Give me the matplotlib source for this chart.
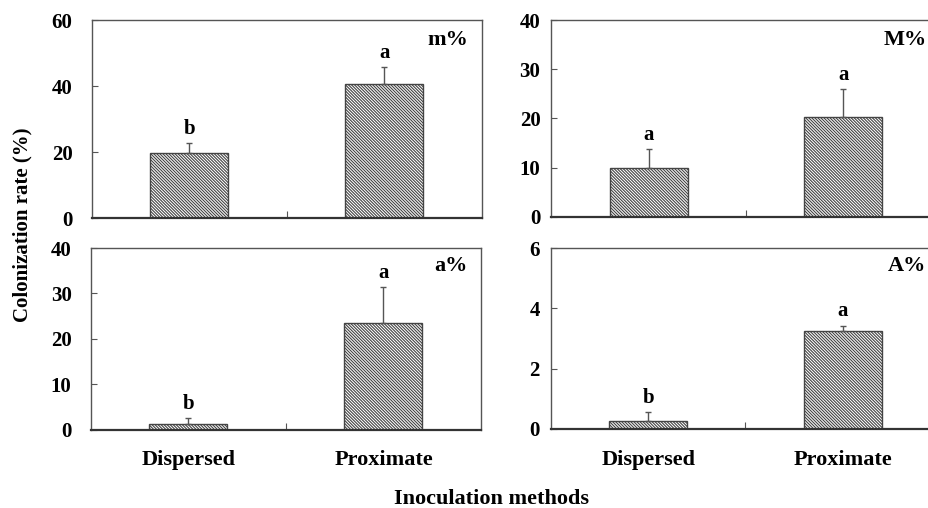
import matplotlib
matplotlib.use('Agg')
import numpy as np
import matplotlib.pyplot as plt

plt.rcParams['font.family'] = ['Liberation Serif', 'DejaVu Serif']
plt.rcParams['font.weight'] = 'bold'
plt.rcParams['hatch.linewidth'] = 0.8
plt.rcParams['hatch.color'] = '#333333'

# data
methods = ['Dispersed', 'Proximate']
panel_names = ['m%', 'M%', 'a%', 'A%']
means = [[19.6, 40.6], [10.0, 20.3], [1.3, 23.5], [0.28, 3.25]]
errs = [[3.0, 5.2], [3.8, 5.6], [1.3, 7.9], [0.29, 0.18]]
letters = [['b', 'a'], ['a', 'a'], ['b', 'a'], ['b', 'a']]
ymax = [60, 40, 40, 6]
yticks = [[0, 20, 40, 60], [0, 10, 20, 30, 40], [0, 10, 20, 30, 40], [0, 2, 4, 6]]

W, H = 929, 508
# axes boxes in pixels: left, right, top, bottom
boxes = [(92, 482, 20, 218), (551.5, 940.5, 20, 217),
         (91, 481, 248, 429.5), (551, 940, 248, 429)]
ypads = [14, 8, 14, 8]

fig = plt.figure(figsize=(W / 100, H / 100), dpi=100)

for i in range(4):
    l, r, t, b = boxes[i]
    ax = fig.add_axes([l / W, 1 - b / H, (r - l) / W, (b - t) / H])
    x = np.array([0.5, 1.5])
    ax.bar(x, means[i], width=0.4, color='white', edgecolor='#444444',
           linewidth=1.0, hatch='\\' * 11, zorder=2)
    ax.errorbar(x, means[i], yerr=[[0, 0], errs[i]], fmt='none',
                ecolor='#555555', elinewidth=1.0, capsize=2.5, capthick=1.0, zorder=3)
    for j in range(2):
        ax.annotate(letters[i][j], (x[j], means[i][j] + errs[i][j]),
                    xytext=(0, 3), textcoords='offset points',
                    ha='center', va='bottom', fontsize=15, fontweight='bold')
    ax.text(0.965, 0.9, panel_names[i], transform=ax.transAxes,
            ha='right', va='center', fontsize=16, fontweight='bold')

    ax.set_xlim(0, 2)
    ax.set_ylim(0, ymax[i])
    ax.set_yticks(yticks[i])
    ax.set_xticks([1.0])
    ax.set_xticklabels([''])
    ax.tick_params(axis='y', direction='in', length=4, width=0.8, color='#555555',
                   labelsize=15, pad=ypads[i])
    ax.tick_params(axis='x', direction='in', length=5, width=0.8, color='#555555')
    if i >= 2:
        ax.set_xticks(x, minor=True)
        ax.set_xticklabels(methods, minor=True)
        ax.tick_params(axis='x', which='minor', length=0, labelsize=16, pad=15)
    for s in ['top', 'left', 'right']:
        ax.spines[s].set_color('#555555')
        ax.spines[s].set_linewidth(1.0)
    ax.spines['bottom'].set_color('#333333')
    ax.spines['bottom'].set_linewidth(1.6)

fig.text(22 / W, 1 - 225 / H, 'Colonization rate (%)', rotation=90,
         ha='center', va='center', fontsize=15, fontweight='bold')
fig.text(491 / W, 1 - 499 / H, 'Inoculation methods',
         ha='center', va='center', fontsize=16, fontweight='bold')

fig.savefig('out.png', dpi=100)
